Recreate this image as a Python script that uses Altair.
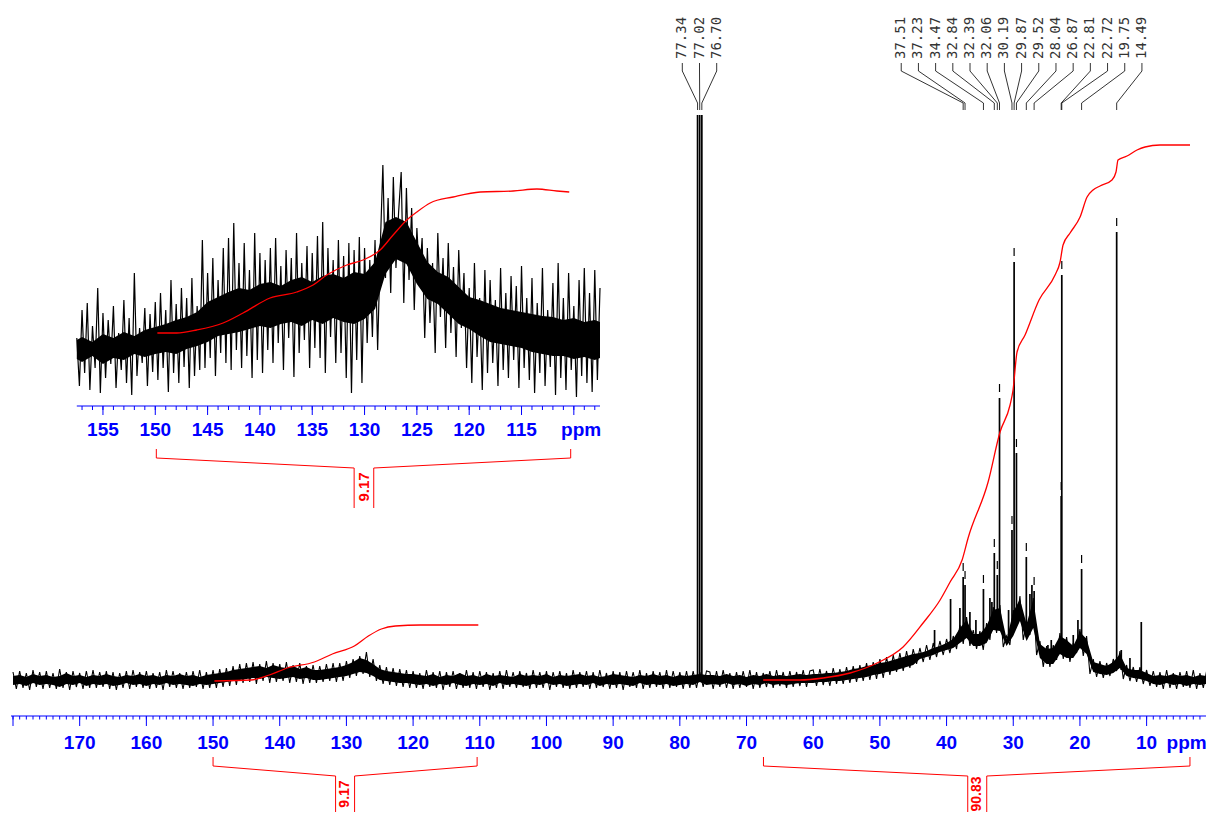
import altair as alt
import pandas as pd

BLUE = "#0000ff"
RED = "#ff0000"

# ---------------- main spectrum: noise envelope (height above baseline, 1 ppm steps) --------
env_ppm = list(range(180, -1, -1))
env_lo = ([-9, -8, -10, -7, -9, -8, -9, -11, -8, -9, -7, -10, -8, -9, -8, -10, -9, -7, -9, -8,
           -10, -8, -9, -7, -9, -8, -9, -10, -8, -9]
          + [-8, -7, -6, -5, -4]
          + [-3, -2, -3, -1, -2, -3, -2, -1, -3, -2, -4]
          + [-4, -3, -2, -1]
          + [0, 2, 4, 3, 0]
          + [-4, -5, -6, -7, -7, -8]
          + [-9, -8, -10, -8, -9, -7, -9, -10, -8, -9, -8, -10, -7, -9, -8, -9, -10, -8, -9, -7,
             -9, -8, -10, -9, -8, -9, -7, -10, -8, -9, -8, -9, -10, -7, -9, -8, -9, -8, -10, -9, -8]
          + [-9, -6, -9]
          + [-8, -9, -7, -9, -8, -10, -8, -9, -7, -9, -8, -9, -8, -7]
          + [-7, -7, -6, -6, -5, -5]
          + [-4, -3, -2, -1, 1, 2]
          + [4, 5, 7, 9, 11]
          + [17, 19, 21, 24, 26]
          + [28, 33, 38, 30, 30, 33, 46, 45, 30, 40, 55, 35, 48, 18, 12, 12, 22, 18, 18, 28,
             22, 4, 2, 1, 3, 8, 0, -2, -3, -5]
          + [-8, -9, -7, -9, -8, -10, -8, -9, -8, -7])
env_hi = ([8, 9, 7, 10, 8, 9, 7, 8, 11, 8, 9, 7, 9, 8, 10, 8, 7, 9, 8, 10, 8, 9, 7, 9, 8, 10, 8, 9, 7, 9]
          + [10, 11, 12, 14, 15]
          + [16, 17, 18, 16, 19, 17, 16, 18, 15, 17, 14]
          + [14, 15, 16, 17]
          + [19, 22, 26, 24, 20]
          + [15, 13, 12, 11, 10, 10]
          + [9, 8, 10, 7, 9, 8, 11, 8, 9, 7, 10, 8, 9, 8, 7, 10, 8, 9, 8, 10,
             7, 9, 8, 9, 10, 8, 9, 7, 8, 10, 9, 8, 7, 9, 8, 10, 8, 9, 7, 9, 8]
          + [9, 10, 9]
          + [9, 8, 10, 8, 9, 7, 9, 8, 10, 8, 9, 8, 9, 10]
          + [9, 10, 10, 11, 11, 12]
          + [13, 15, 16, 18, 19, 21]
          + [22, 24, 26, 28, 30]
          + [31, 33, 36, 38, 41]
          + [45, 56, 64, 50, 50, 58, 74, 76, 45, 72, 85, 60, 84, 40, 35, 36, 48, 44, 38, 52,
             45, 22, 20, 18, 22, 30, 16, 14, 14, 11]
          + [8, 9, 8, 10, 8, 9, 7, 9, 8, 9])
assert len(env_lo) == len(env_ppm) == len(env_hi)

# ---------------- main spectrum trace (0.5 ppm steps, 180 -> 0 ppm) ----------------
trace_val = ([8, -9, 9, -8, 7, -10, 10, -7, 8, -9, 9, -8, 7, -9, 11, -8, 8, -10, 9, -7,
              7, -9, 9, -8, 10, -8, 8, -7, 9, -9, 8, -10, 7, -8, 9, -9, 10, -7, 8, -8,
              9, -9, 7, -8, 8, -10, 10, -7, 9, -8, 7, -9, 8, -8, 9, -7, 10, -9, 8, -8]
             + [10, -8, 11, -7, 12, -6, 14, -5]
             + [16, -3, 17, -2, 18, -4, 16, -1, 19, -3, 17, -2, 16, -1, 18, -3, 15, -2, 17, -4,
                14, -3]
             + [15, -3, 14, -2, 16, -1, 17, -2]
             + [17, -1, 19, 2, 21, 4, 24, 6, 28, 3, 21, -1]
             + [15, -4, 13, -5, 12, -6, 11, -7, 10, -8]
             + [9, -8, 7, -9, 10, -7, 8, -8, 9, -10, 8, -7, 9, -9, 7, -8, 10, -8, 8, -9,
                9, -7, 8, -10, 7, -8, 9, -9, 10, -7, 8, -8, 9, -7, 7, -9, 10, -8, 8, -8,
                9, -10, 8, -7, 9, -8, 7, -9, 10, -8, 8, -7, 9, -9, 8, -8, 10, -7, 7, -9,
                9, -8, 8, -10, 9, -7, 8, -8, 10, -9, 7, -8, 9, -7, 8, -9, 10, -8, 9, -7,
                8, -9, 9, -8]
             + [9, -8, 8, -7, 9]
             + [8, -9, 9, -7, 10, -8, 7, -9, 8, -8, 9, -7, 10, -9, 8, -8, 7, -7, 9, -8,
                10, -6, 8, -8, 9, -7, 8, -6, 10, -7, 9]
             + [10, -6, 11, -5, 9, -6, 12, -4, 11, -4, 13, -3, 14, -2, 15, -1, 17, 0, 18, 1]
             + [21, 2, 23, 5, 25, 8, 27, 9, 29, 12, 31, 16, 32, 18, 35, 20, 37, 23, 39, 25]
             + [41, 27, 44, 31, 55, 36, 63, 34, 50, 31, 49, 30, 57, 40, 73, 47, 75, 33, 44, 35,
                70, 55, 84, 40, 58, 45, 82, 25, 39, 13, 34, 13, 35, 20, 47, 21, 43, 18, 37, 27,
                51, 24, 44, 6, 21, 3, 19, 2, 17, 4, 21, 9, 29, 1, 15, -1, 13, -2, 13, -4]
             + [10, -6, 9, -7, 8, -9, 10, -8, 7, -9, 8, -7, 9, -8, 10, -9, 7, -8, 9, -7, 8])
trace_ppm = [180 - 0.5 * i for i in range(len(trace_val))]
assert len(trace_val) == 361

# ---------------- peaks ----------------
label_ppm = [77.34, 77.02, 76.70, 37.51, 37.23, 34.47, 32.84, 32.39, 32.06, 30.19, 29.87,
             29.52, 28.04, 26.87, 22.81, 22.72, 19.75, 14.49]
label_top = [565, 565, 565, 103, 95, 91, 127, 105, 282, 150, 418, 227, 123, 89, 184, 405, 111, 448]
label_base = [0, 0, 0, 45, 45, 45, 55, 55, 50, 55, 60, 60, 45, 55, 30, 30, 35, 12]
label_text = ["77.34", "77.02", "76.70", "37.51", "37.23", "34.47", "32.84", "32.39", "32.06",
              "30.19", "29.87", "29.52", "28.04", "26.87", "22.81", "22.72", "19.75", "14.49"]

other_ppm = [41.8, 39.4, 38.0, 36.5, 35.6, 33.5, 33.2, 30.7, 27.5, 27.2, 24.8, 24.3, 21.0, 20.3,
             13.8, 12.5, 10.8, 0.05]
other_top = [50, 81, 72, 68, 60, 82, 78, 70, 86, 95, 35, 40, 45, 60, 30, 22, 58, 70]
other_base = [30, 35, 45, 45, 40, 60, 55, 45, 55, 60, 20, 20, 25, 35, 10, 5, 4, 0]

# ---------------- integrals ----------------
int1_ppm = [149.80, 144.26, 141.56, 138.86, 134.81, 132.11, 128.81, 126.71, 124.76, 122.66,
            118.91, 114.41, 110.22]
int1_h = [-1, 0, 5, 12, 18, 26, 34, 44, 51, 54, 55, 55, 55]
int2_ppm = [67.50, 61.96, 58.51, 54.46, 50.41, 46.52, 43.52, 40.97, 39.47, 37.67, 36.77, 33.77,
            31.98, 30.48, 30.03, 29.43, 28.23, 26.13, 23.73, 22.98, 22.53, 21.48, 19.98, 18.93,
            18.03, 16.99, 15.19, 14.59, 14.29, 12.94, 11.44, 10.24, 7.99, 3.49]
int2_h = [0, 0, 2, 7, 17, 33, 57, 80, 98, 120, 142, 198, 248, 275, 290, 328, 345, 380, 405,
          418, 435, 447, 463, 483, 490, 494, 500, 508, 520, 524, 530, 533, 535, 535]
brackets = [(150.0, 110.4, 130.2, "9.17"), (67.46, 3.5, 35.4, "90.83")]

# ---------------- inset (expanded 157.5 - 107.5 ppm) ----------------
inset_val = ([60, 12, 88, 25, 95, 8, 72, 30, 110, 5, 85, 20, 78, 34, 92, 10, 65, 28, 98, 15,
              80, 3, 125, 22, 70, 35, 90, 12, 84, 26]
             + [96, 18, 105, 30, 88, 6, 118, 25, 94, 15, 110, 31, 100, 10, 120, 22, 92, 28, 158]
             + [30, 125, 40, 140, 22, 118, 45, 150, 35, 160, 28, 175, 48, 135, 30, 155, 42, 128,
                20, 165, 38, 145, 25, 138, 48, 150]
             + [35, 160, 55, 132, 28, 148, 60, 140, 21, 165, 45, 135, 58, 152, 30, 145, 50, 162,
                40, 176, 25, 150, 61, 138, 35, 158]
             + [45, 142, 20, 155, 5, 148, 38, 161, 15, 150, 55, 138, 61, 158, 48]
             + [150, 233, 120]
             + [200, 105, 221, 130, 185, 226, 95, 210, 118, 190, 88, 170]
             + [120, 160, 60, 150, 75, 135, 45, 165, 81, 140, 50, 155, 65, 131, 41, 148, 70]
             + [125, 30, 110, 15, 135, 41, 100, 8, 128, 25, 118, 35, 98, 12, 130, 28, 105, 20,
                122, 38, 112, 10, 132, 30, 100, 18]
             + [120, 5, 95, 25, 130, 12, 88, 31, 115, 3, 135, 20, 100, 8, 125, 28, 92, 1, 118,
                22, 130, 15, 105, 6, 128, 18, 110])
inset_ppm = [157.5 - 0.25 * i for i in range(len(inset_val))]
# dense core of the inset noise (1 ppm steps)
core_ppm = [157.5] + list(range(157, 107, -1)) + [107.5]
core_lo = [25, 22, 28, 20, 26, 24, 30, 27, 30, 32, 30, 35, 38, 42, 48, 50, 52, 55, 58, 56,
           60, 62, 58, 64, 60, 66, 62, 60, 65, 75, 110, 125, 120, 100, 85, 80, 70, 60, 55, 48,
           42, 40, 38, 36, 32, 30, 28, 28, 25, 27, 24, 26]
core_hi = [72, 75, 70, 78, 74, 80, 76, 82, 85, 88, 92, 95, 100, 110, 115, 120, 124, 122, 128,
           130, 126, 132, 135, 130, 136, 138, 134, 140, 138, 150, 190, 195, 190, 170, 150, 140,
           135, 125, 115, 112, 108, 104, 102, 100, 98, 96, 95, 92, 94, 90, 92, 90]
assert len(core_ppm) == len(core_lo) == len(core_hi)
inset_int_ppm = [149.80, 147.95, 146.04, 143.52, 141.61, 139.03, 136.48, 134.92, 133.61,
                 131.70, 130.14, 128.51, 127.27, 125.96, 125.00, 123.73, 121.53, 118.95,
                 115.80, 113.53, 111.62, 110.44]
inset_int_v = [65, 65, 68, 75, 85, 100, 106, 113, 123, 133, 138, 148, 163, 178, 186, 195, 201,
               206, 207, 209, 207, 206]

main_labels = [170, 160, 150, 140, 130, 120, 110, 100, 90, 80, 70, 60, 50, 40, 30, 20, 10]
inset_labels = [155, 150, 145, 140, 135, 130, 125, 120, 115]

# ---------------- scales ----------------
XM = alt.Scale(domain=[180.3, 0], range=[3, 1205.3], nice=False, zero=False)
YM = alt.Scale(domain=[0, 600], range=[672, 72], nice=False, zero=False)
XI = alt.Scale(domain=[157.5, 107.5], range=[68.8, 592], nice=False, zero=False)
YI = alt.Scale(domain=[0, 240], range=[390, 150], nice=False, zero=False)


def X(f, s):
    return alt.X(f, type="quantitative", scale=s, axis=None)


def Y(f, s):
    return alt.Y(f, type="quantitative", scale=s, axis=None)


layers = []

# main noise: dense core + trace
df_env = pd.DataFrame({"ppm": env_ppm, "lo": env_lo, "hi": env_hi})
layers.append(alt.Chart(df_env).transform_calculate(a="datum.lo + 4", b="datum.hi - 4")
              .mark_area(color="black")
              .encode(x=X("ppm", XM), y=Y("b:Q", YM), y2="a:Q"))
df_tr = pd.DataFrame({"i": list(range(len(trace_val))), "ppm": trace_ppm, "v": trace_val})
layers.append(alt.Chart(df_tr).mark_line(color="black", strokeWidth=1.1)
              .encode(x=X("ppm", XM), y=Y("v", YM), order="i:Q"))

# peaks
df_pk = pd.DataFrame({"ppm": label_ppm + other_ppm, "top": label_top + other_top,
                      "base": label_base + other_base})
layers.append(alt.Chart(df_pk).mark_rule(color="black", strokeWidth=1.7)
              .encode(x=X("ppm", XM), y=Y("base", YM), y2="top"))

# peak-pick dashes
df_dash = pd.DataFrame({"ppm": label_ppm[3:], "a": [t + 6 for t in label_top[3:]],
                        "b": [t + 14 for t in label_top[3:]]})
layers.append(alt.Chart(df_dash).mark_rule(color="black", strokeWidth=1.2)
              .encode(x=X("ppm", XM), y=Y("a", YM), y2="b"))

# label connectors
SP = 17.2 / 6.671
groups = [(0, 3, 77.05), (3, 18, 28.75)]
lab_pos = []
for s, e, c in groups:
    n = e - s
    for k in range(n):
        lab_pos.append(c + ((n - 1) / 2 - k) * SP)
rows = []
for i, (p, lp) in enumerate(zip(label_ppm, lab_pos)):
    for k, (xx, yy) in enumerate([(lp, 617), (lp, 609), (p, 577), (p, 570)]):
        rows.append({"id": i, "k": k, "ppm": xx, "h": yy})
layers.append(alt.Chart(pd.DataFrame(rows)).mark_line(color="black", strokeWidth=0.8)
              .encode(x=X("ppm", XM), y=Y("h", YM), detail="id:N", order="k:Q"))
df_lab = pd.DataFrame({"ppm": lab_pos, "h": [621] * len(lab_pos), "t": label_text})
layers.append(alt.Chart(df_lab).mark_text(font="DejaVu Sans Mono", fontSize=14, color="#333333",
                                          angle=270, align="left", baseline="middle")
              .encode(x=X("ppm", XM), y=Y("h", YM), text="t:N"))

# integrals (main)
rows = [{"id": 0, "k": k, "ppm": p, "h": h} for k, (p, h) in enumerate(zip(int1_ppm, int1_h))]
rows += [{"id": 1, "k": k, "ppm": p, "h": h} for k, (p, h) in enumerate(zip(int2_ppm, int2_h))]
layers.append(alt.Chart(pd.DataFrame(rows)).mark_line(color=RED, strokeWidth=1.3, interpolate="monotone")
              .encode(x=X("ppm", XM), y=Y("h", YM), detail="id:N", order="k:Q"))

# integral brackets (main)
D = 9.5 / 6.671
rows, trows = [], []
for i, (a, b, c, t) in enumerate(brackets):
    for side, (end, cc) in enumerate([(a, c + D), (b, c - D)]):
        for k, (xx, yy) in enumerate([(end, -77), (end, -86), (cc, -96), (cc, -140)]):
            rows.append({"id": f"{i}{side}", "k": k, "ppm": xx, "h": yy})
    trows.append({"ppm": c, "h": -114, "t": t})
layers.append(alt.Chart(pd.DataFrame(rows)).mark_line(color=RED, strokeWidth=1)
              .encode(x=X("ppm", XM), y=Y("h", YM), detail="id:N", order="k:Q"))
layers.append(alt.Chart(pd.DataFrame(trows)).mark_text(font="Liberation Sans", fontWeight="bold",
                                                       fontSize=14, color=RED, angle=270,
                                                       align="center", baseline="middle")
              .encode(x=X("ppm", XM), y=Y("h", YM), text="t:N"))

# main axis
layers.append(alt.Chart(pd.DataFrame({"a": [180.3], "b": [0], "h": [-36]}))
              .mark_rule(color=BLUE, strokeWidth=1.2)
              .encode(x=X("a", XM), x2="b", y=Y("h", YM)))
minor = [v for v in range(180, -1, -1)]
layers.append(alt.Chart(pd.DataFrame({"ppm": minor, "a": [-36] * len(minor), "b": [-39.5] * len(minor)}))
              .mark_rule(color=BLUE, strokeWidth=1)
              .encode(x=X("ppm", XM), y=Y("a", YM), y2="b"))
major = list(range(180, -1, -10))
layers.append(alt.Chart(pd.DataFrame({"ppm": major, "a": [-36] * len(major), "b": [-46] * len(major)}))
              .mark_rule(color=BLUE, strokeWidth=1)
              .encode(x=X("ppm", XM), y=Y("a", YM), y2="b"))
df_ml = pd.DataFrame({"ppm": main_labels + [4.0], "h": [-63] * (len(main_labels) + 1),
                      "t": [str(v) for v in main_labels] + ["ppm"]})
layers.append(alt.Chart(df_ml).mark_text(font="Liberation Sans", fontWeight="bold", fontSize=19,
                                         color=BLUE, align="center", baseline="middle")
              .encode(x=X("ppm", XM), y=Y("h", YM), text="t:N"))

# ---------------- inset ----------------
df_core = pd.DataFrame({"ppm": core_ppm, "lo": core_lo, "hi": core_hi})
layers.append(alt.Chart(df_core).transform_calculate(a="datum.lo + 14", b="datum.hi - 14")
              .mark_area(color="black")
              .encode(x=X("ppm", XI), y=Y("b:Q", YI), y2="a:Q"))
df_in = pd.DataFrame({"i": list(range(len(inset_val))), "ppm": inset_ppm, "v": inset_val})
layers.append(alt.Chart(df_in).mark_line(color="black", strokeWidth=1.2)
              .encode(x=X("ppm", XI), y=Y("v", YI), order="i:Q"))
df_ii = pd.DataFrame({"k": list(range(len(inset_int_ppm))), "ppm": inset_int_ppm, "v": inset_int_v})
layers.append(alt.Chart(df_ii).mark_line(color=RED, strokeWidth=1.3, interpolate="monotone")
              .encode(x=X("ppm", XI), y=Y("v", YI), order="k:Q"))
layers.append(alt.Chart(pd.DataFrame({"a": [157.5], "b": [107.5], "v": [-8]}))
              .mark_rule(color=BLUE, strokeWidth=1.2)
              .encode(x=X("a", XI), x2="b", y=Y("v", YI)))
iminor = list(range(157, 107, -1))
layers.append(alt.Chart(pd.DataFrame({"ppm": iminor, "a": [-8] * len(iminor), "b": [-12] * len(iminor)}))
              .mark_rule(color=BLUE, strokeWidth=1)
              .encode(x=X("ppm", XI), y=Y("a", YI), y2="b"))
imajor = list(range(155, 109, -5))
layers.append(alt.Chart(pd.DataFrame({"ppm": imajor, "a": [-8] * len(imajor), "b": [-17] * len(imajor)}))
              .mark_rule(color=BLUE, strokeWidth=1)
              .encode(x=X("ppm", XI), y=Y("a", YI), y2="b"))
df_il = pd.DataFrame({"ppm": inset_labels + [109.3], "v": [-32] * (len(inset_labels) + 1),
                      "t": [str(v) for v in inset_labels] + ["ppm"]})
layers.append(alt.Chart(df_il).mark_text(font="Liberation Sans", fontWeight="bold", fontSize=19,
                                         color=BLUE, align="center", baseline="middle")
              .encode(x=X("ppm", XI), y=Y("v", YI), text="t:N"))
DI = 9.8 / 10.46
rows = []
for side, (end, cc) in enumerate([(149.9, 130.06 + DI), (110.3, 130.06 - DI)]):
    for k, (xx, yy) in enumerate([(end, -51), (end, -60), (cc, -70), (cc, -110)]):
        rows.append({"id": side, "k": k, "ppm": xx, "v": yy})
layers.append(alt.Chart(pd.DataFrame(rows)).mark_line(color=RED, strokeWidth=1)
              .encode(x=X("ppm", XI), y=Y("v", YI), detail="id:N", order="k:Q"))
layers.append(alt.Chart(pd.DataFrame({"ppm": [130.06], "v": [-89], "t": ["9.17"]}))
              .mark_text(font="Liberation Sans", fontWeight="bold", fontSize=15, color=RED,
                         angle=270, align="center", baseline="middle")
              .encode(x=X("ppm", XI), y=Y("v", YI), text="t:N"))

chart = (alt.layer(*layers)
         .resolve_scale(x="independent", y="independent")
         .properties(width=1198, height=804, padding=0,
                     autosize=alt.AutoSizeParams(type="none"))
         .configure_view(stroke=None))

chart.save("out.html", embed_options={"renderer": "svg", "actions": False})
